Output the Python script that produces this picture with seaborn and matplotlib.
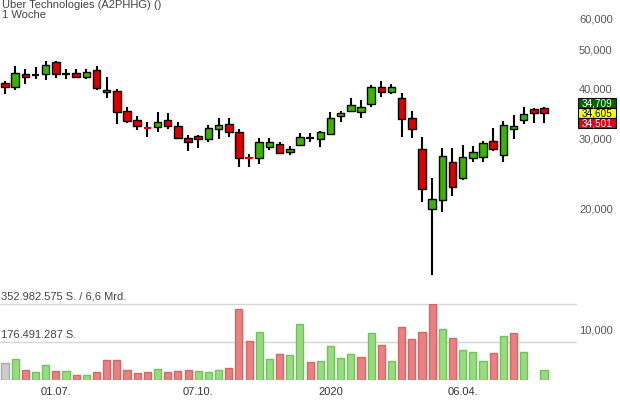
import numpy as np
import pandas as pd
import matplotlib.pyplot as plt
import matplotlib.ticker as mticker
from matplotlib.patches import Rectangle
import seaborn as sns

# Chart texts
title = "Uber Technologies (A2PHHG) ()"
subtitle = "1 Woche"
vol_top_label = "352.982.575 S. / 6,6 Mrd."
vol_half_label = "176.491.287 S."

# Weekly candles (EUR)
weeks = pd.date_range("2019-05-27", periods=54, freq="W-MON")
tick_dates = ["2019-07-01", "2019-10-07", "2020-01-06", "2020-04-06"]
tick_labels = ["01.07.", "07.10.", "2020", "06.04."]

opens = [41.24, 40.44, 43.51, 43.26, 43.59, 46.62, 43.44, 43.69, 42.84, 44.52,
         39.16, 39.45, 35.16, 33.38, 31.92, 32.00, 33.38, 32.25, 30.09, 30.44,
         29.97, 31.75, 32.62, 31.15, 26.82, 26.78, 28.53, 29.02, 27.82, 28.95,
         30.09, 29.97, 30.84, 34.10, 35.22, 34.96, 36.66, 40.37, 39.22, 37.82,
         33.70, 28.20, 20.03, 21.05, 26.17, 23.95, 26.87, 27.03, 29.53, 27.33,
         31.75, 33.44, 35.51, 35.72]
highs = [41.79, 45.56, 44.77, 45.29, 46.89, 46.89, 44.69, 44.69, 44.69, 45.48,
         42.77, 39.84, 35.98, 34.16, 32.94, 34.96, 34.76, 33.00, 30.62, 30.62,
         32.43, 33.82, 33.77, 31.70, 27.50, 30.09, 30.09, 29.36, 28.69, 30.97,
         30.92, 31.33, 34.96, 35.10, 37.89, 37.45, 40.84, 41.79, 41.07, 38.92,
         35.16, 30.21, 23.87, 28.36, 28.36, 28.85, 28.69, 29.53, 31.83, 33.13,
         34.29, 35.92, 35.72, 35.92]
lows = [38.70, 39.75, 41.14, 42.27, 41.96, 42.44, 42.20, 42.59, 42.34, 39.61,
        37.82, 32.56, 32.75, 31.52, 30.32, 31.12, 31.70, 29.87, 27.98, 28.36,
        29.46, 29.87, 30.32, 25.43, 25.43, 25.91, 28.09, 27.50, 27.33, 28.74,
        29.46, 28.62, 30.74, 33.07, 35.02, 33.77, 36.04, 38.18, 38.77, 30.32,
        30.14, 20.86, 13.66, 19.62, 21.52, 23.67, 26.17, 26.27, 27.98, 26.27,
        29.97, 32.54, 32.73, 32.73]
closes = [40.30, 43.69, 42.84, 43.26, 45.82, 43.44, 43.44, 42.84, 44.01, 40.21,
          39.68, 35.02, 33.25, 32.30, 31.85, 33.00, 32.30, 30.14, 29.46, 29.97,
          31.93, 32.43, 31.22, 26.87, 26.75, 29.41, 29.36, 27.66, 28.25, 30.26,
          30.09, 31.15, 33.70, 34.76, 36.39, 35.98, 40.37, 39.22, 40.37, 33.63,
          31.61, 22.48, 21.13, 27.09, 22.74, 26.93, 27.72, 29.19, 28.30, 32.38,
          32.19, 34.49, 34.69, 34.69]

# Weekly volume in million shares, and its colour class
volume_mio = [77.6, 97.5, 45.0, 38.6, 68.3, 41.8, 41.8, 24.6, 23.2, 37.2,
              91.5, 91.5, 45.0, 31.1, 37.2, 49.7, 38.6, 41.8, 45.0, 43.2,
              38.6, 47.8, 54.3, 328.4, 181.2, 224.4, 96.2, 120.8, 116.1, 258.7,
              83.6, 89.6, 156.5, 100.8, 119.4, 108.2, 219.7, 164.0, 89.6, 246.2,
              190.4, 221.6, 352.98, 235.5, 193.7, 140.7, 131.5, 88.3, 125.4, 203.0,
              219.7, 130.1, np.nan, 47.8]
volume_dir = ["flat", "up", "down", "up", "up", "down", "up", "down", "up", "down",
              "down", "down", "down", "down", "down", "up", "down", "down", "down", "up",
              "up", "up", "down", "down", "down", "up", "up", "down", "up", "up",
              "down", "up", "up", "up", "up", "down", "up", "down", "up", "down",
              "down", "down", "down", "up", "down", "up", "up", "up", "down", "up",
              "down", "up", "up", "up"]

price_ticks = [10, 20, 30, 40, 50, 60]
last_prices = [34.709, 34.605, 34.501]
vol_max = 352.982575
vol_half = 176.491287

df = pd.DataFrame({"week": weeks, "open": opens, "high": highs, "low": lows,
                   "close": closes, "volume": volume_mio, "dir": volume_dir})
df["idx"] = np.arange(len(df))

sns.set_theme(style="white")
plt.rcParams["font.family"] = ["Liberation Sans", "DejaVu Sans"]

W, H = 620, 400
fig = plt.figure(figsize=(W / 100, H / 100), dpi=100)
fig.patch.set_facecolor("white")

plot_right = 576
step = 10.17
xlim = (-5 / step, (plot_right - 5) / step)

# price panel over the whole height, log scale
ax = fig.add_axes([0, 0, plot_right / W, 1])
ax.set_facecolor("none")
ax.set_yscale("log")
ax.set_ylim(20 * 10 ** ((209 - H) / 400), 20 * 10 ** (209 / 400))
ax.set_xlim(*xlim)

red = "#dd0000"
green = "#3cb300"
o = df["open"].to_numpy()
c = df["close"].to_numpy()
x = df["idx"].to_numpy()
lo_b = np.minimum(o, c)
hi_b = np.maximum(o, c)
body_col = np.where(c > o, green, red)
small = np.abs(c - o) / o < 0.004

ax.vlines(x, df["low"], df["high"], color="black", lw=1.5, zorder=1)
big = ~small
ax.bar(x[big], hi_b[big] - lo_b[big], bottom=lo_b[big], width=0.74,
       color=body_col[big], edgecolor="black", linewidth=1.0, zorder=2)
for i in x[small]:
    col = "black" if o[i] == c[i] else body_col[i]
    ax.hlines(o[i], i - 0.37, i + 0.37, color=col, lw=1.6, zorder=2)

for s in ax.spines.values():
    s.set_visible(False)
ax.set_xticks([])
ax.yaxis.tick_right()
ax.yaxis.set_major_locator(mticker.FixedLocator(price_ticks))
ax.yaxis.set_minor_locator(mticker.NullLocator())
ax.yaxis.set_major_formatter(mticker.FuncFormatter(
    lambda v, p: f"{v:.3f}".replace(".", ",")))
ax.tick_params(axis="y", length=0, pad=2.2, labelsize=8, labelcolor="#555555")
for lab in ax.get_yticklabels():
    lab.set_horizontalalignment("left")

# volume panel
axv = fig.add_axes([0, 20 / H, plot_right / W, 76 / H])
axv.set_facecolor("none")
fills = {"up": "#98dc80", "down": "#ec8080", "flat": "#cccccc"}
edges = {"up": "#74bf5e", "down": "#cc6a6a", "flat": "#aaaaaa"}
vol = df[df["volume"].notna()]
for d in ["flat", "up", "down"]:
    sub = vol[vol["dir"] == d]
    sns.barplot(data=sub, x="idx", y="volume", native_scale=True, color=fills[d],
                edgecolor=edges[d], linewidth=1.0, width=0.7, saturation=1,
                errorbar=None, ax=axv, zorder=2)
axv.set_xlim(*xlim)
axv.set_ylim(0, vol_max)
for level in (vol_max, vol_half):
    axv.axhline(level, color="#d6d6d6", lw=1, clip_on=False, zorder=0)
axv.annotate(vol_top_label, (0, vol_max), xycoords=("axes fraction", "data"),
             xytext=(0.5, 1.5), textcoords="offset points", fontsize=8,
             color="#444444", va="bottom", ha="left")
axv.annotate(vol_half_label, (0, vol_half), xycoords=("axes fraction", "data"),
             xytext=(0.5, 1.2), textcoords="offset points", fontsize=8,
             color="#444444", va="bottom", ha="left")
for s in axv.spines.values():
    s.set_visible(False)
axv.set_xlabel("")
axv.set_ylabel("")
axv.set_yticks([])
tick_pos = weeks.get_indexer(pd.to_datetime(tick_dates))
axv.set_xticks(tick_pos)
axv.set_xticklabels(tick_labels)
axv.tick_params(axis="x", length=0, pad=5, labelsize=8, labelcolor="#333333")

# title
fig.text(2 / W, 1 - 0.5 / H, title, fontsize=8, color="#444444", va="top", ha="left")
fig.text(2 / W, 1 - 10.5 / H, subtitle, fontsize=8, color="#444444", va="top", ha="left")

# last price boxes
box_cols = ["#006400", "#ffff00", "#dd0020"]
text_cols = ["white", "black", "white"]
for k, (val, bc, tc) in enumerate(zip(last_prices, box_cols, text_cols)):
    top = 97.7 + 10 * k
    fig.patches.append(Rectangle((578 / W, 1 - (top + 10) / H), 38 / W, 10 / H,
                                 transform=fig.transFigure, facecolor=bc,
                                 edgecolor="black", linewidth=0.8, zorder=3))
    fig.text(597 / W, 1 - (top + 5.3) / H, f"{val:.3f}".replace(".", ","),
             fontsize=7.2, color=tc, ha="center", va="center", zorder=4)

fig.savefig("out.png", dpi=100)
